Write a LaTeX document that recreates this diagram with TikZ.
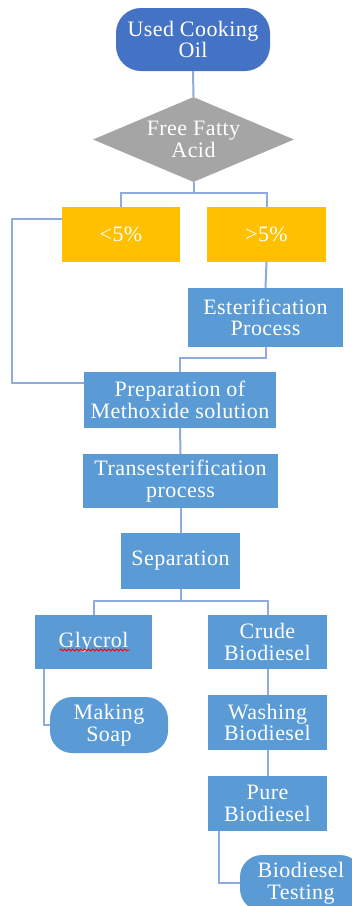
\documentclass[tikz,border=0pt]{standalone}
\usepackage{fontspec}
\setmainfont{Liberation Serif}[LetterSpace=2]
\usetikzlibrary{shapes.geometric,decorations.pathmorphing}
\definecolor{darkblue}{HTML}{4472C4}
\definecolor{boxblue}{HTML}{5B9BD5}
\definecolor{orangeY}{HTML}{FFC000}
\definecolor{grayD}{HTML}{A5A5A5}
\definecolor{lineblue}{HTML}{8FAADC}
\begin{document}
\begin{tikzpicture}[x=1pt,y=-1pt,
  every node/.style={font=\fontsize{22}{21.5}\selectfont, text=white, align=center, inner sep=0pt},
  stepbox/.style={rectangle, fill=boxblue},
  orbox/.style={rectangle, fill=orangeY},
  term/.style={rectangle, rounded corners=25pt},
  conn/.style={draw=lineblue, line width=2pt}]
\clip (0,0) rectangle (352,906);
% nodes
\node[term, fill=darkblue, minimum width=154pt, minimum height=63pt] (oil) at (193,39.5) {Used Cooking\\Oil};
\node[diamond, fill=grayD, aspect=2.36, minimum width=201pt, minimum height=85pt] (ffa) at (193.5,139.5) {Free Fatty\\Acid};
\node[orbox, minimum width=118pt, minimum height=55pt] (lt5) at (121,234.5) {<5\%};
\node[orbox, minimum width=119pt, minimum height=55pt] (gt5) at (266.5,234.5) {>5\%};
\node[stepbox, minimum width=155pt, minimum height=59pt] (est) at (265.5,317.5) {Esterification\\Process};
\node[stepbox, minimum width=192pt, minimum height=56pt] (prep) at (180,400) {Preparation of\\Methoxide solution};
\node[stepbox, minimum width=195pt, minimum height=54pt] (trans) at (180.5,481) {Transesterification\\process};
\node[stepbox, minimum width=119pt, minimum height=56pt] (sep) at (180.5,561) {Separation};
\node[stepbox, minimum width=117pt, minimum height=54pt] (gly) at (93.5,642) {Glycrol};
\node[stepbox, minimum width=119pt, minimum height=54pt] (crude) at (267.5,642) {Crude\\Biodiesel};
\node[term, rounded corners=22pt, fill=boxblue, minimum width=118pt, minimum height=56pt] (soap) at (109,725) {Making\\Soap};
\node[stepbox, minimum width=119pt, minimum height=55pt] (wash) at (267.5,722.5) {Washing\\Biodiesel};
\node[stepbox, minimum width=119pt, minimum height=55pt] (pure) at (267.5,803.5) {Pure\\Biodiesel};
\node[term, rounded corners=22pt, fill=boxblue, minimum width=122pt, minimum height=56pt] (test) at (301,883) {Biodiesel\\Testing};
% spell-check underline
\draw[red, line width=0.8pt, decorate, decoration={snake, amplitude=1pt, segment length=4pt}] ([xshift=-34pt,yshift=-8pt]gly.center) -- ([xshift=36pt,yshift=-8pt]gly.center);
% connectors
\draw[conn] (oil.south) -- (ffa.north);
\draw[conn] (ffa.south) -- ++(0,11) -| (lt5.north);
\draw[conn] (ffa.south) -- ++(0,11) -| (gt5.north);
\draw[conn] ([yshift=15.5pt]lt5.west) -- ++(-50,0) |- ([yshift=17pt]prep.west);
\draw[conn] (gt5.south) -- (est.north);
\draw[conn] (est.south) -- ++(0,11) -| (prep.north);
\draw[conn] (prep.south) -- (trans.north);
\draw[conn] (trans.south) -- (sep.north);
\draw[conn] (sep.south) -- ++(0,12) -| (gly.north);
\draw[conn] (sep.south) -- ++(0,12) -| (crude.north);
\draw[conn] ([xshift=-49.5pt]gly.south) |- (soap.west);
\draw[conn] (crude.south) -- (wash.north);
\draw[conn] (wash.south) -- (pure.north);
\draw[conn] ([xshift=-48.5pt]pure.south) |- (test.west);
\end{tikzpicture}
\end{document}
